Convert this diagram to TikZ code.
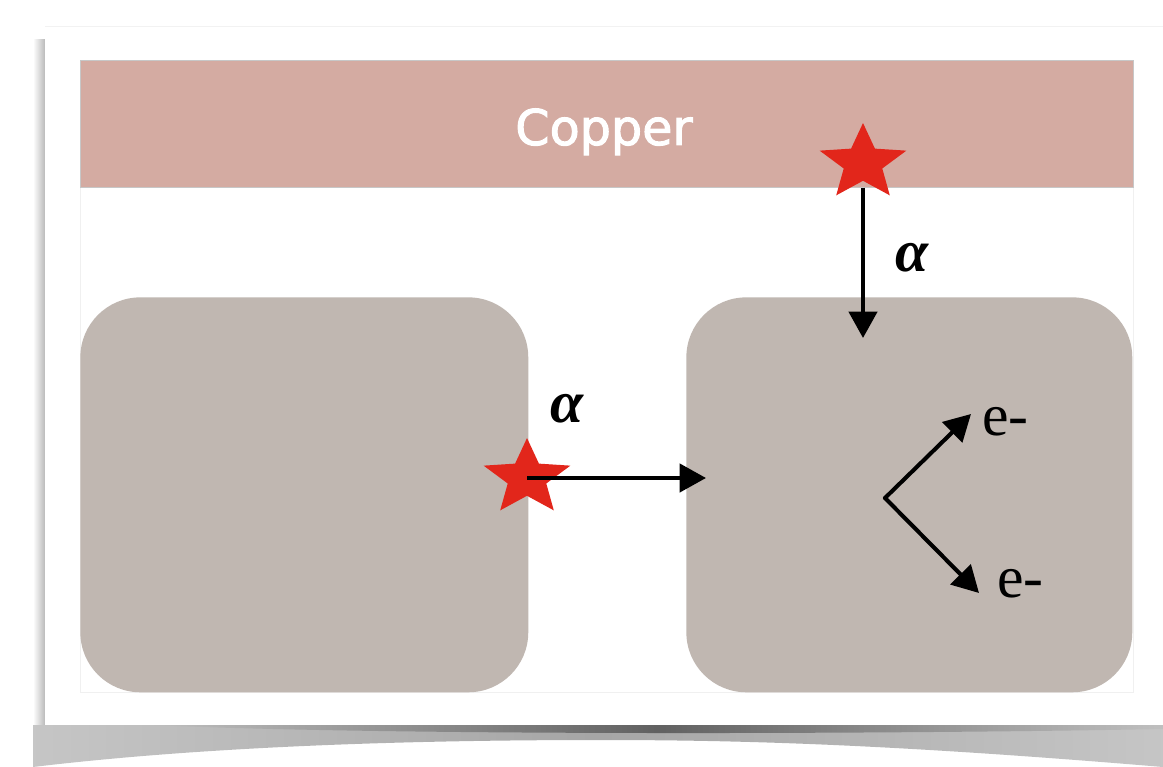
\documentclass[tikz,border=0pt]{standalone}
\usepackage{fontspec}
\usetikzlibrary{arrows.meta,shapes.geometric}
\newfontface\sansf{DejaVu Sans}[FakeBold=2]
\newfontfamily\serf{Liberation Serif}
\definecolor{copperc}{HTML}{D4ABA2}
\definecolor{boxc}{HTML}{C0B7B1}
\definecolor{starc}{HTML}{E2261B}
\begin{document}
\begin{tikzpicture}[x=0.02cm,y=-0.02cm,
  slab/.style={fill=boxc, rounded corners=1.2cm, inner sep=0pt, anchor=north west},
  ray/.style={-{Triangle[width=16pt,length=15pt]}, line width=2.3pt},
  lbl/.style={font=\serf\fontsize{34}{36}\selectfont, inner sep=0pt, anchor=base west},
  alph/.style={font=\serf\bfseries\itshape\fontsize{34}{36}\selectfont, inner sep=0pt, anchor=base west},
  decay/.style={star, star points=5, star point ratio=2.25, fill=starc, minimum size=1.6cm, inner sep=0pt, transform shape}]
\useasboundingbox (0,0) rectangle (1163,767);
% card shadow
\shade[left color=white, right color=gray!55] (33,40) rectangle (45,725);
\shade[left color=gray!45, right color=gray!45, middle color=gray!70]
  (33,725) -- (1163,725) -- (1163,767) .. controls (900,745) and (750,740) .. (600,740)
  .. controls (400,740) and (200,747) .. (33,767) -- cycle;
\shade[left color=gray!50, right color=gray!50, middle color=black!62]
  (150,725) .. controls (400,736) and (900,734) .. (1163,729) -- (1163,725) -- cycle;
% card
\fill[white] (45,26) rectangle (1163,725);
\draw[black!5] (45,26) -- (1163,26);
\draw[black!6] (80,186) rectangle (1133,692);
% copper
\node[fill=copperc, draw=black!22, line width=0.4pt, minimum width=21.06cm, minimum height=2.54cm, inner sep=0pt, anchor=north west] (cu) at (80,60) {};
\node[font=\sansf\fontsize{28}{30}\selectfont, text=white, inner sep=0pt, anchor=base] (culbl) at (604,145) {Copper};
% boxes
\node[slab, minimum width=8.96cm, minimum height=7.9cm] (lbox) at (80,297) {};
\node[slab, minimum width=8.92cm, minimum height=7.9cm] (rbox) at (686,297) {};
% stars
\begin{scope}[shift={(863,163)}, xscale=1.14]
  \node[decay] (s1) at (0,0) {};
\end{scope}
\begin{scope}[shift={(527,478)}, xscale=1.14]
  \node[decay] (s2) at (0,0) {};
\end{scope}
% alpha rays
\coordinate (a1s) at (s1.center |- cu.south);
\coordinate (a1e) at (863,338);
\draw[ray] (a1s) -- (a1e);
\node[alph] (al1) at (895,271) {α};
\coordinate (a2x) at (706,0);
\coordinate (a2e) at (a2x |- s2.center);
\draw[ray] (s2.center) -- (a2e);
\node[alph] (al2) at (550,422) {α};
% electrons
\coordinate (ev) at (885,498);
\coordinate (e1) at (971,414);
\coordinate (e2) at (979,593);
\draw[ray, line cap=round] (ev) -- (e1);
\draw[ray, line cap=round] (ev) -- (e2);
\node[lbl] (t1) at (982,435) {e-};
\node[lbl] (t2) at (997,597) {e-};
\end{tikzpicture}
\end{document}
